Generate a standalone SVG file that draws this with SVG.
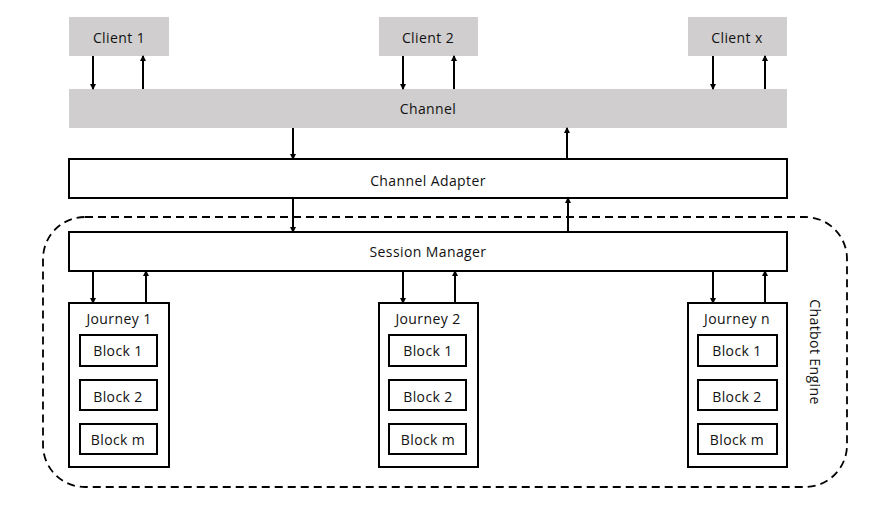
<svg xmlns="http://www.w3.org/2000/svg" width="887" height="507" viewBox="0 0 887 507">
<style>
text{font-family:"Open Sans","Liberation Sans",sans-serif;font-size:14px;letter-spacing:0.4px;fill:#111;text-anchor:middle;dominant-baseline:central}
.g{fill:#d0cece;stroke:none}
.w{fill:#fff;stroke:#000;stroke-width:2}
.c{stroke:#000;stroke-width:2;fill:none}
</style>
<defs>
<marker id="ah" viewBox="0 0 6 6" refX="5" refY="3" markerWidth="3" markerHeight="3" orient="auto"><path d="M0,0L6,3L0,6z" fill="#000"/></marker>
</defs>
<rect width="887" height="507" fill="#fff"/>
<g id="engine"><rect x="43" y="217" width="804" height="270" rx="42" fill="none" stroke="#000" stroke-width="1.8" stroke-dasharray="8,5"/>
<text x="815" y="352" transform="rotate(90 815 352)">Chatbot Engine</text></g>
<g id="client1"><rect class="g" x="69" y="17" width="100" height="39"/><text x="119" y="37">Client 1</text></g>
<g id="client2"><rect class="g" x="379" y="17" width="99" height="39"/><text x="428" y="37">Client 2</text></g>
<g id="clientx"><rect class="g" x="688" y="17" width="99" height="39"/><text x="737" y="37">Client x</text></g>
<g id="channel"><rect class="g" x="69" y="89" width="718" height="39"/><text x="428" y="108">Channel</text></g>
<g id="adapter"><rect class="w" x="69" y="159" width="718" height="39"/><text x="428" y="180">Channel Adapter</text></g>
<g id="session"><rect class="w" x="69" y="232" width="718" height="39"/><text x="428" y="251">Session Manager</text></g>
<g id="journey1"><rect class="w" x="69" y="303" width="100" height="164"/><text x="119" y="318">Journey 1</text>
<rect class="w" x="80" y="335" width="77" height="31"/><text x="118" y="350">Block 1</text>
<rect class="w" x="80" y="380" width="77" height="30"/><text x="118" y="396">Block 2</text>
<rect class="w" x="80" y="424" width="77" height="30"/><text x="118" y="439">Block m</text></g>
<g id="journey2"><rect class="w" x="379" y="303" width="99" height="164"/><text x="428" y="318">Journey 2</text>
<rect class="w" x="389" y="335" width="77" height="31"/><text x="428" y="350">Block 1</text>
<rect class="w" x="389" y="380" width="77" height="30"/><text x="428" y="396">Block 2</text>
<rect class="w" x="389" y="424" width="77" height="30"/><text x="428" y="439">Block m</text></g>
<g id="journeyn"><rect class="w" x="688" y="303" width="99" height="164"/><text x="737" y="318">Journey n</text>
<rect class="w" x="698" y="335" width="79" height="31"/><text x="737" y="350">Block 1</text>
<rect class="w" x="698" y="380" width="79" height="30"/><text x="737" y="396">Block 2</text>
<rect class="w" x="698" y="424" width="79" height="30"/><text x="737" y="439">Block m</text></g>
<g id="connectors" class="c" marker-end="url(#ah)">
<path d="M93,56V89"/><path d="M143,89V56"/>
<path d="M403,56V89"/><path d="M454,89V56"/>
<path d="M713,56V89"/><path d="M765,89V56"/>
<path d="M293,128V159"/><path d="M567,159V128"/>
<path d="M293,198V232"/><path d="M568,232V198"/>
<path d="M93,271V303"/><path d="M146,303V271"/>
<path d="M403,271V303"/><path d="M455,303V271"/>
<path d="M713,271V303"/><path d="M765,303V271"/>
</g>
</svg>
